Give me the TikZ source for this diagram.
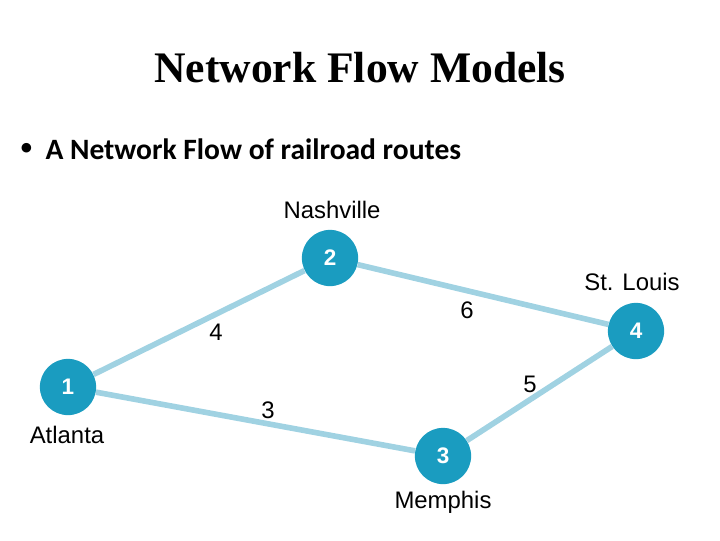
\documentclass[tikz,border=0pt]{standalone}
\usepackage{fontspec}
\setmainfont{Liberation Serif}
\newfontfamily\bodyfont{Carlito}
\newfontfamily\labelfont{Liberation Sans}
\definecolor{nodeblue}{RGB}{26,156,192}
\definecolor{edgeblue}{RGB}{160,210,226}
\tikzset{
  city/.style={circle, fill=nodeblue, minimum size=40pt, inner sep=0pt,
    text=white, font=\labelfont\bfseries\fontsize{16}{16}\selectfont},
  route/.style={edgeblue, line width=4pt},
  place/.style={font=\labelfont\fontsize{17}{17}\selectfont},
  cost/.style={font=\labelfont\fontsize{17}{17}\selectfont}
}
\begin{document}
\begin{tikzpicture}[x=0.025cm, y=-0.025cm]
    \useasboundingbox (0,0) rectangle (720,540);

    % Heading
    \node[font=\bfseries\fontsize{31}{31}\selectfont] (title) at (360,68) {Network Flow Models};
    \node[anchor=west, font=\bodyfont\bfseries\fontsize{21}{21}\selectfont] (point) at (16,149) {\raisebox{0.35ex}{\fontsize{16}{16}\selectfont\textbullet}\ \ A Network Flow of railroad routes};

    % Cities
    \node[city] (n1) at (68,387) {1};
    \node[city] (n2) at (330,258) {2};
    \node[city] (n3) at (443,456) {3};
    \node[city] (n4) at (636,331) {4};

    % Names
    \node[place] (atl) at (67,435) {Atlanta};
    \node[place] (nas) at (332,210) {Nashville};
    \node[place] (mem) at (443,502) {Memphis};
    \node[place] (stl) at (632,282) {St. Louis};

    % Routes
    \draw[route] (n1) -- (n2);
    \draw[route] (n2) -- (n4);
    \draw[route] (n1) -- (n3);
    \draw[route] (n3) -- (n4);

    % Capacities
    \node[cost] (c12) at (216,332) {4};
    \node[cost] (c24) at (467,310) {6};
    \node[cost] (c13) at (268,410) {3};
    \node[cost] (c34) at (530,384) {5};
\end{tikzpicture}
\end{document}
